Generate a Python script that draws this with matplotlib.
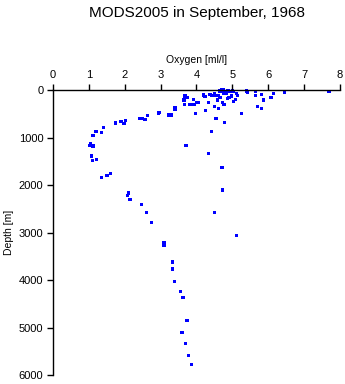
"""
Oxygen profile for MODS2005 stations, September 1968: depth vs dissolved oxygen.
"""

import matplotlib
matplotlib.use("Agg")
import matplotlib.pyplot as plt

OUT = "out.png"

# ── Data: oxygen [ml/l] and depth [m] for each bottle sample ────────────────

oxygen = [
    3.68, 3.73, 3.65, 3.91, 4.01, 4.06, 3.66, 3.82, 3.93, 3.98,
    2.63, 2.41, 2.50, 2.57, 2.95, 2.94, 3.23, 3.30, 3.40, 3.40,
    3.38, 2.02, 1.90, 1.98, 1.74, 1.40, 1.20, 1.36, 1.12, 1.04,
    1.01, 1.12, 3.71, 1.08, 1.10, 1.22, 1.36, 1.50, 1.61, 2.11,
    2.07, 2.15, 2.46, 2.60, 2.74, 4.50, 5.11, 3.09, 3.09, 3.33,
    3.33, 3.38, 3.55, 3.62, 3.74, 3.60, 3.70, 3.77, 3.86,
    4.19, 4.24, 4.38, 4.42, 4.47, 4.52, 4.56, 4.61, 4.50, 4.65,
    4.71, 4.76, 4.79, 4.84, 4.89, 4.93, 4.98, 5.03, 4.33, 4.50,
    4.61, 4.25, 4.65, 4.58, 4.72, 4.77, 4.86, 4.91, 4.98, 5.08,
    5.03, 5.12, 5.14, 5.40, 5.42, 5.64, 5.64, 5.81, 5.86, 5.70,
    5.81, 6.08, 6.14, 6.45, 7.69, 4.54, 4.78, 5.26, 4.41, 4.33,
    4.71, 4.73, 4.65, 4.70, 4.88, 5.00, 4.75, 4.84,
]

depth = [
    126, 154, 211, 196, 259, 259, 309, 301, 301, 490,
    533, 604, 604, 617, 469, 490, 526, 526, 373, 400,
    415, 638, 659, 709, 695, 794, 869, 890, 954, 1122,
    1164, 1179, 1164, 1389, 1480, 1459, 1838, 1796, 1754, 2168,
    2217, 2309, 2406, 2575, 2793, 2575, 3067, 3206, 3270, 3621,
    3768, 4027, 4238, 4373, 4849, 5101, 5333, 5585, 5775,
    105, 140, 91, 112, 112, 112, 112, 112, 70, 35,
    0, 0, 35, 35, 35, 35, 35, 35, 267, 344,
    386, 428, 154, 211, 259, 301, 175, 154, 126, 196,
    246, 70, 112, 21, 49, 35, 112, 91, 211, 344,
    393, 154, 70, 56, 35, 596, 680, 490, 877, 1340,
    1628, 2105, 21, 21, 21, 21, 70, 70,
]

x_ticks = [0, 1, 2, 3, 4, 5, 6, 7, 8]
y_ticks = [0, 1000, 2000, 3000, 4000, 5000, 6000]

TITLE = "MODS2005 in September, 1968"
XLABEL = "Oxygen [ml/l]"
YLABEL = "Depth [m]"


# ── Plot ─────────────────────────────────────────────────────────────────────

def main():
    plt.rcParams["font.family"] = ["Liberation Sans", "DejaVu Sans"]

    fig = plt.figure(figsize=(3.45, 3.84), dpi=100)
    ax = fig.add_axes([0.1536, 0.0234, 0.8319, 0.7422])

    ax.scatter(oxygen, depth, marker="s", s=6, color="#0000ff",
               edgecolors="none", clip_on=False)

    ax.set_xlim(0, 8)
    ax.set_ylim(6000, 0)
    ax.set_xticks(x_ticks)
    ax.set_yticks(y_ticks)

    ax.xaxis.set_ticks_position("top")
    ax.xaxis.set_label_position("top")
    for side in ("right", "bottom"):
        ax.spines[side].set_visible(False)
    for side in ("left", "top"):
        ax.spines[side].set_linewidth(1.0)

    ax.tick_params(axis="both", direction="out", length=4, width=1.0,
                   labelsize=8, pad=3)
    ax.set_xlabel(XLABEL, fontsize=7.5, labelpad=5)
    ax.set_ylabel(YLABEL, fontsize=7.5, labelpad=3)

    fig.text(0.57, 0.967, TITLE, ha="center", va="center", fontsize=11)

    fig.savefig(OUT, dpi=100)
    plt.close(fig)


if __name__ == "__main__":
    main()
